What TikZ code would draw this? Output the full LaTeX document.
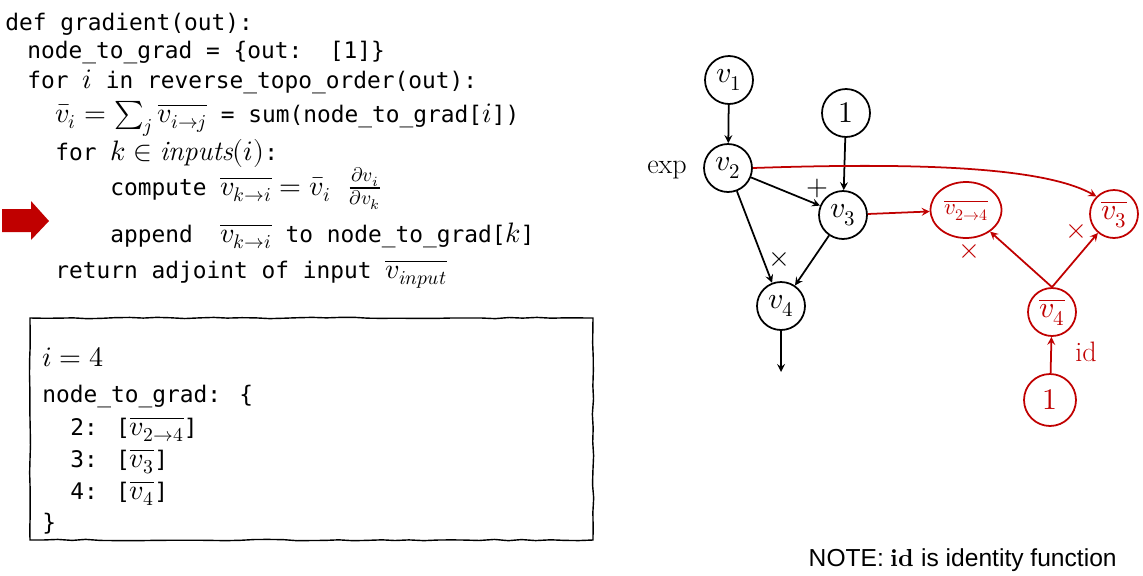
\documentclass[tikz,border=0pt]{standalone}
\usepackage{amsmath}
\usepackage{unicode-math}
\setmathfont{Latin Modern Math}
\setmonofont{DejaVu Sans Mono}
\setsansfont{Liberation Sans}
\usetikzlibrary{shapes.geometric,decorations.pathmorphing}
\definecolor{dred}{HTML}{C00000}
\tikzset{
  code/.style={anchor=base west, inner sep=0pt, font=\fontsize{13}{15}\selectfont\ttfamily},
  vnode/.style={circle, draw, line width=1pt, minimum size=0.96cm, inner sep=0pt, font=\fontsize{17}{19}\selectfont},
  rnode/.style={vnode, draw=dred, text=dred},
  op/.style={font=\fontsize{16}{18}\selectfont},
  edge/.style={line width=1pt, -stealth},
  redge/.style={edge, dred}
}
\begin{document}
\begin{tikzpicture}[x=0.02cm, y=-0.02cm]
\useasboundingbox (0,0) rectangle (1143,575);
% pseudo code
\node[code] (l1) at (5,30) {def gradient(out):};
\node[code] (l2) at (27,58) {node\_to\_grad = \{out:\ \ [1]\}};
\node[code] (l3) at (27,88) {for \fontsize{16}{18}\selectfont$i$\fontsize{13}{15}\selectfont{} in reverse\_topo\_order(out):};
\node[code] (l4) at (55,122) {\fontsize{16}{18}\selectfont$\bar{v}_i = \sum_j \overline{v_{i\to j}}$\fontsize{13}{15}\selectfont{} = sum(node\_to\_grad[\fontsize{16}{18}\selectfont$i$\fontsize{13}{15}\selectfont])};
\node[code] (l5) at (55,160) {for\ \fontsize{16}{18}\selectfont$k \in \mathit{inputs}(i)$\fontsize{13}{15}\selectfont:};
\node[code] (l6) at (110,195) {compute \fontsize{16}{18}\selectfont$\overline{v_{k\to i}} = \bar{v}_i\ \frac{\partial v_i}{\partial v_k}$};
\node[code] (l7) at (110,242) {append\ \ \fontsize{16}{18}\selectfont$\overline{v_{k\to i}}$\fontsize{13}{15}\selectfont{} to node\_to\_grad[\fontsize{16}{18}\selectfont$k$\fontsize{13}{15}\selectfont]};
\node[code] (l8) at (55,278) {return adjoint of input \fontsize{16}{18}\selectfont$\overline{v_{input}}$};
\fill[dred] (2,209) -- (31,209) -- (31,201) -- (49,221) -- (31,240) -- (31,232) -- (2,232) -- cycle;
% state box
\draw[thick, decorate, decoration={random steps, segment length=8pt, amplitude=0.4pt}] (30,318) rectangle (593,540);
\node[code] (s1) at (42,366) {\fontsize{16}{18}\selectfont$i=4$};
\node[code] (s2) at (42,402) {node\_to\_grad: \{};
\node[code] (s3) at (70,435) {2: [\fontsize{16}{18}\selectfont$\overline{v_{2\to4}}$\fontsize{13}{15}\selectfont]};
\node[code] (s4) at (70,467) {3: [\fontsize{16}{18}\selectfont$\overline{v_{3}}$\fontsize{13}{15}\selectfont]};
\node[code] (s5) at (70,499) {4: [\fontsize{16}{18}\selectfont$\overline{v_{4}}$\fontsize{13}{15}\selectfont]};
\node[code] (s6) at (42,530) {\}};
% forward graph
\node[vnode] (v1) at (729,80) {$v_1$};
\node[vnode] (one) at (846,113) {$1$};
\node[vnode] (v2) at (728,168) {$v_2$};
\node[vnode] (v3) at (843,215) {$v_3$};
\node[vnode] (v4) at (781,306) {$v_4$};
\coordinate (out) at (781,372);
\node[op] (exp) at (667,170) {exp};
\node[op] (plus) at (817,188) {$+$};
\node[op] (times) at (779,260) {$\times$};
\draw[edge] (v1) -- (v2);
\draw[edge] (one) -- (v3);
\draw[edge] (v2) -- (v3);
\draw[edge] (v2) -- (v4);
\draw[edge] (v3) -- (v4);
\draw[edge] (v4) -- (out);
% adjoint graph
\node[ellipse, draw=dred, line width=1pt, text=dred, minimum width=1.42cm, minimum height=1.12cm, inner sep=0pt, font=\fontsize{13}{15}\selectfont] (g24) at (966,210) {$\overline{v_{2\to4}}$};
\node[rnode] (g3) at (1114,214) {$\overline{v_3}$};
\node[rnode] (g4) at (1052,312) {$\overline{v_4}$};
\node[rnode, minimum size=1.04cm] (gone) at (1050,400) {$1$};
\node[op, text=dred] (t1) at (969,252) {$\times$};
\node[op, text=dred] (t2) at (1076,232) {$\times$};
\node[op, text=dred] (id) at (1086,352) {id};
\draw[redge] (gone) -- (g4);
\draw[redge] (g4.north) -- (g24);
\draw[redge] (g4.north) -- (g3);
\draw[redge] (v3) -- (g24);
\draw[redge] (v2.east) .. controls (900,163) and (1040,165) .. (g3.north west);
% note
\node[anchor=base east, font=\fontsize{14}{16}\selectfont\sffamily, inner sep=0pt] (note) at (1117,566) {NOTE: $\symbf{id}$ is identity function};
\end{tikzpicture}
\end{document}
